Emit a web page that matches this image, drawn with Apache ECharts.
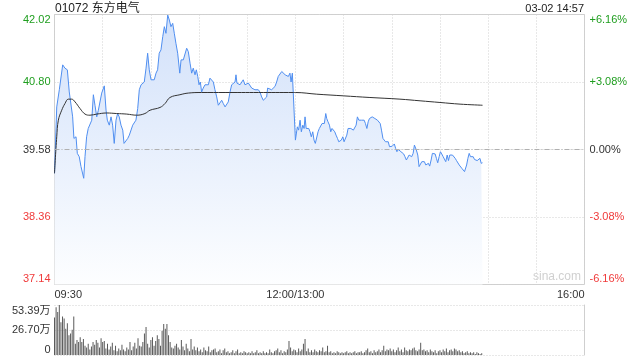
<!DOCTYPE html>
<html><head><meta charset="utf-8">
<script src="https://cdn.jsdelivr.net/npm/echarts@6/dist/echarts.min.js"></script>
<style>html,body{margin:0;padding:0;background:#fff}#c{width:640px;height:360px}</style>
</head><body><div id="c"></div>
<script>
const titleText = '01072 东方电气';
const stampText = '03-02 14:57';
const prevClose = 39.58;
const priceTicks = [37.14, 38.36, 39.58, 40.80, 42.02];
const pctTicks = [-6.16, -3.08, 0, 3.08, 6.16];
const volTicks = [0, 26.70, 53.39];
const timeLabels = {0: '09:30', 150: '12:00/13:00', 330: '16:00'};

// [minute since 09:30 (trading minutes), price]
const pricePoints = [
[0,39.15],[1.4,40.35],[3.0,40.66],[4.0,40.69],[5.1,41.11],[6.5,41.05],[8.0,41.02],[9.2,40.62],[10.3,40.60],[11.3,40.17],
[12.1,39.78],[13.4,39.81],[14.2,39.51],[15.4,39.45],[16.5,39.27],[17.3,39.30],[18.2,39.06],[19.0,39.45],[20.0,39.81],[21.0,39.96],
[22.1,39.99],[23.2,40.11],[24.2,40.57],[25.2,40.38],[26.3,40.17],[27.3,40.29],[28.3,40.26],[29.4,40.60],[30.4,40.60],[31.0,40.73],
[32.1,40.29],[32.9,40.11],[34.1,40.02],[35.2,40.17],[36.2,40.02],[37.2,39.69],[38.3,40.11],[39.3,40.23],[40.3,40.17],[41.4,40.02],
[42.5,39.93],[43.3,39.69],[44.5,39.72],[45.6,39.78],[46.6,39.84],[47.6,39.87],[48.7,40.02],[49.7,40.05],[50.7,40.11],[51.8,40.32],
[52.8,40.66],[53.9,40.75],[54.9,40.75],[55.9,40.80],[57.0,41.05],[58.0,41.32],[59.0,41.02],[60.1,40.84],[61.1,40.81],[62.1,40.84],
[63.2,40.96],[64.2,41.02],[65.2,41.32],[66.3,41.38],[67.4,41.62],[68.4,41.80],[69.4,41.68],[70.5,42.01],[71.5,41.92],[72.5,41.80],
[73.6,41.86],[74.6,41.68],[75.6,41.50],[76.7,41.32],[78.0,40.96],[78.8,41.20],[80.2,41.20],[81.3,41.23],[82.3,41.41],[83.3,41.35],
[84.4,41.14],[85.4,40.96],[86.4,41.05],[87.5,40.93],[88.3,41.02],[89.2,40.90],[90.0,40.75],[90.8,40.80],[91.6,40.62],[92.6,40.69],
[93.7,40.75],[94.8,40.78],[95.8,40.75],[96.8,40.87],[97.9,40.90],[98.9,40.80],[99.9,40.66],[101.0,40.53],[102.0,40.38],[103.0,40.35],
[104.1,40.47],[105.1,40.41],[106.2,40.35],[107.2,40.38],[108.2,40.44],[109.3,40.62],[110.3,40.75],[111.3,40.75],[112.4,40.80],[113.0,40.93],
[113.6,40.78],[114.4,40.80],[115.5,40.75],[116.6,40.78],[117.5,40.84],[118.6,40.75],[119.7,40.72],[120.7,40.78],[121.7,40.80],[122.8,40.69],
[123.8,40.66],[124.8,40.66],[125.9,40.66],[126.9,40.66],[127.9,40.62],[129.0,40.53],[130.0,40.47],[131.1,40.44],[132.1,40.53],[132.7,40.69],
[133.7,40.66],[135.2,40.66],[136.2,40.69],[137.3,40.72],[138.3,40.80],[139.3,40.90],[140.4,40.90],[141.5,40.99],[142.5,40.99],[143.6,40.93],
[144.6,40.93],[145.6,40.90],[146.6,40.96],[147.3,40.80],[148.1,40.96],[149.0,40.93],[150.0,39.75],[151.2,39.99],[152.0,39.93],[152.9,40.11],
[153.7,39.90],[154.6,40.02],[155.4,39.96],[156.0,40.17],[156.7,39.96],[157.5,39.93],[158.3,39.96],[159.1,39.90],[159.9,39.81],[160.8,39.90],
[161.6,39.75],[162.4,39.69],[163.3,39.72],[164.1,39.90],[164.9,39.96],[165.8,39.96],[166.6,40.05],[167.4,40.08],[168.0,40.05],[168.9,40.23],
[169.5,40.14],[170.3,40.08],[171.2,40.02],[172.0,39.90],[172.8,39.96],[173.7,39.93],[174.5,39.90],[175.3,39.84],[176.2,39.78],[177.0,39.72],
[177.8,39.72],[178.6,39.75],[179.5,39.81],[180.3,39.72],[181.1,39.75],[182.0,39.84],[182.8,39.96],[183.6,39.93],[184.5,39.96],[185.3,39.93],
[186.1,39.93],[187.0,39.90],[187.8,40.02],[188.6,40.17],[189.5,40.11],[190.3,40.14],[191.1,40.11],[192.0,40.14],[192.8,40.11],[193.6,40.05],
[194.5,39.96],[195.3,40.08],[196.1,40.14],[197.0,40.17],[197.8,40.17],[198.6,40.14],[199.5,40.14],[200.3,40.14],[201.1,40.11],[202.0,40.11],
[202.8,40.05],[203.6,39.93],[204.5,39.78],[205.3,39.75],[206.1,39.72],[207.0,39.69],[207.8,39.72],[208.6,39.63],[209.5,39.63],[210.3,39.64],
[211.6,39.68],[212.4,39.60],[213.2,39.54],[214.1,39.58],[214.9,39.57],[215.7,39.54],[216.6,39.54],[217.4,39.50],[218.2,39.45],[219.1,39.39],
[219.9,39.38],[220.8,39.48],[221.6,39.51],[222.4,39.45],[223.3,39.51],[224.1,39.66],[224.7,39.69],[225.3,39.57],[226.2,39.48],[227.0,39.27],
[227.8,39.27],[228.7,39.36],[229.5,39.39],[230.3,39.36],[231.2,39.30],[232.0,39.33],[232.8,39.33],[233.6,39.28],[234.5,39.39],[235.3,39.51],
[236.1,39.49],[237.0,39.50],[237.8,39.42],[238.6,39.34],[239.5,39.45],[240.3,39.54],[241.1,39.50],[242.0,39.45],[242.8,39.42],[243.6,39.36],
[244.5,39.48],[245.3,39.38],[246.1,39.48],[247.0,39.50],[247.8,39.48],[248.6,39.50],[249.5,39.42],[250.3,39.38],[251.1,39.36],[252.0,39.30],
[252.8,39.27],[253.6,39.24],[254.5,39.21],[255.3,39.18],[255.9,39.15],[256.6,39.30],[257.4,39.42],[258.2,39.51],[259.0,39.45],[259.9,39.44],
[260.7,39.45],[261.5,39.40],[262.4,39.39],[263.2,39.38],[264.0,39.40],[264.9,39.42],[265.7,39.33],[266.5,39.34]
];

// average price line [minute, price]
const avgPoints = [
[0,39.15],[1.4,39.81],[2.4,40.11],[4.5,40.29],[6.5,40.41],[8.6,40.49],[10.7,40.49],[12.8,40.44],[15.9,40.32],[19.0,40.22],
[22.1,40.20],[26.3,40.22],[32.5,40.24],[38.7,40.23],[45.0,40.22],[51.2,40.20],[56.3,40.23],[59.5,40.29],[65.7,40.34],[68.8,40.41],
[71.9,40.52],[78.1,40.57],[83.3,40.60],[91.6,40.61],[106.2,40.61],[126.9,40.61],[148.7,40.61],[150,40.61],[163.3,40.58],[179.8,40.55],
[196.4,40.52],[215.1,40.49],[227.6,40.46],[240.0,40.43],[252.5,40.40],[266.5,40.38]
];

// volume per minute, in 万 shares
const volumes = [
40,51,46,53.4,35,41,39,28,34,21,
23,27,41,12,16,14,19,14,17,10,
8,12,6,9,14,11,16,13,8,18,
14,15,7,12,6,9,13,5,10,4,
7,5,11,6,4,8,6,14,5,9,
13,7,18,10,9,14,23,30,12,8,
16,19,10,15,21,17,10,26,33,28,
33,21,14,8,7,10,12,8,6,16,
9,5,12,7,4,17,6,9,5,8,
4,6,3,8,5,4,9,3,5,6,
7,3,4,6,2,5,7,3,4,2,
3,5,2,4,6,2,3,2,4,3,
2,3,2,4,2,3,5,2,3,2,
4,2,3,2,6,3,2,4,5,7,
3,5,2,4,3,6,15,8,4,6,
5,3,7,4,6,12,17,4,7,3,
5,3,6,4,3,5,4,8,3,4,
10,3,4,2,3,2,4,3,2,3,
2,3,4,2,3,2,3,4,2,3,
3,4,2,3,5,7,3,4,2,5,
3,4,6,3,5,10,4,6,5,7,
4,6,3,5,8,4,6,3,8,5,
4,6,5,7,8,5,4,6,13,5,
6,4,5,3,6,4,3,5,2,4,
5,3,6,4,7,3,5,6,4,7,
6,4,5,3,4,2,3,4,2,3,
2,3,1,3,2,1,2
];

const GREEN = '#1f9e1f', RED = '#f03a3a', DARK = '#333';
const FONT = "'Liberation Sans', Arial, 'Noto Sans CJK SC', sans-serif";
const priceColor = v => v > prevClose + 1e-6 ? GREEN : (v < prevClose - 1e-6 ? RED : DARK);
const pctColor = v => v > 1e-6 ? GREEN : (v < -1e-6 ? RED : DARK);
const dotted = {show: true, lineStyle: {color: '#d0d0d0', type: [1, 2], width: 1}};

const chart = echarts.init(document.getElementById('c'), null, {renderer: 'canvas'});
chart.setOption({
  animation: false,
  textStyle: {fontFamily: FONT},
  grid: [
    {left: 54.5, right: 55.5, top: 14.5, height: 270, show: true, borderColor: '#cfcfcf', borderWidth: 1, backgroundColor: 'transparent'},
    {left: 54.5, right: 55.5, top: 305, height: 50}
  ],
  xAxis: [
    {type: 'value', gridIndex: 0, min: 0, max: 330, interval: 30,
     axisLine: {show: false}, axisTick: {show: false}, splitLine: dotted,
     axisLabel: {show: true, color: DARK, fontSize: 11, margin: 5, fontFamily: FONT,
       showMinLabel: true, showMaxLabel: true, alignMinLabel: 'left', alignMaxLabel: 'right',
       formatter: v => timeLabels[v] || ''}},
    {type: 'value', gridIndex: 1, min: 0, max: 330, interval: 30,
     axisLine: {show: false}, axisTick: {show: false}, splitLine: {show: false}, axisLabel: {show: false}}
  ],
  yAxis: [
    {type: 'value', gridIndex: 0, min: 37.14, max: 42.02, position: 'left',
     axisLine: {show: false}, axisTick: {show: false, customValues: priceTicks}, splitLine: dotted,
     axisLabel: {customValues: priceTicks, fontSize: 11, margin: 4, fontFamily: FONT,
       verticalAlignMinLabel: 'bottom', verticalAlignMaxLabel: 'top',
       formatter: v => v.toFixed(2), color: v => priceColor(v)}},
    {type: 'value', gridIndex: 0, min: -6.16, max: 6.16, position: 'right',
     axisLine: {show: false}, axisTick: {show: false, customValues: pctTicks}, splitLine: {show: false},
     axisLabel: {customValues: pctTicks, fontSize: 11, margin: 5, fontFamily: FONT,
       verticalAlignMinLabel: 'bottom', verticalAlignMaxLabel: 'top',
       formatter: v => (Math.abs(v) < 1e-6 ? '0.00' : (v > 0 ? '+' : '') + v.toFixed(2)) + '%',
       color: v => pctColor(v)}},
    {type: 'value', gridIndex: 1, min: 0, max: 53.39, position: 'left',
     axisLine: {show: false}, axisTick: {show: false, customValues: volTicks}, splitLine: dotted,
     axisLabel: {customValues: volTicks, fontSize: 11, margin: 4, color: DARK, fontFamily: FONT,
       verticalAlignMinLabel: 'bottom', verticalAlignMaxLabel: 'top',
       formatter: v => v === 0 ? '0' : v.toFixed(2) + '万'}},
    {type: 'value', gridIndex: 1, min: 0, max: 53.39, position: 'right',
     axisLine: {show: true, lineStyle: {color: '#cfcfcf'}}, axisTick: {show: false}, splitLine: {show: false}, axisLabel: {show: false}}
  ],
  graphic: [
    {type: 'text', left: 55, top: 3, style: {text: titleText, font: '12px ' + FONT, fill: '#222'}},
    {type: 'text', right: 56, top: 3, style: {text: stampText, font: '11px ' + FONT, fill: '#222'}},
    {type: 'text', left: 533, top: 271, style: {text: 'sina.com', font: '12px ' + FONT, fill: '#d0d0d0'}}
  ],
  series: [
    {type: 'line', xAxisIndex: 0, yAxisIndex: 0, data: pricePoints, showSymbol: false, z: 3,
     lineStyle: {color: '#4f8ef0', width: 1},
     areaStyle: {origin: 'start', opacity: 1, color: new echarts.graphic.LinearGradient(0, 0, 0, 1, [
       {offset: 0, color: 'rgb(210,225,250)'}, {offset: 1, color: 'rgb(253,254,255)'}])},
     markLine: {silent: true, symbol: 'none', label: {show: false},
       lineStyle: {color: '#b0b0b0', type: [5, 2, 1, 2], width: 1}, data: [{yAxis: prevClose}]}},
    {type: 'line', xAxisIndex: 0, yAxisIndex: 0, data: avgPoints, showSymbol: false, smooth: 0.4, z: 4,
     lineStyle: {color: '#333', width: 1}},
    {type: 'bar', xAxisIndex: 1, yAxisIndex: 2, data: volumes.map((v, i) => [i, v]), barWidth: 1,
     itemStyle: {color: '#5a5a5a'}}
  ]
});
</script></body></html>
